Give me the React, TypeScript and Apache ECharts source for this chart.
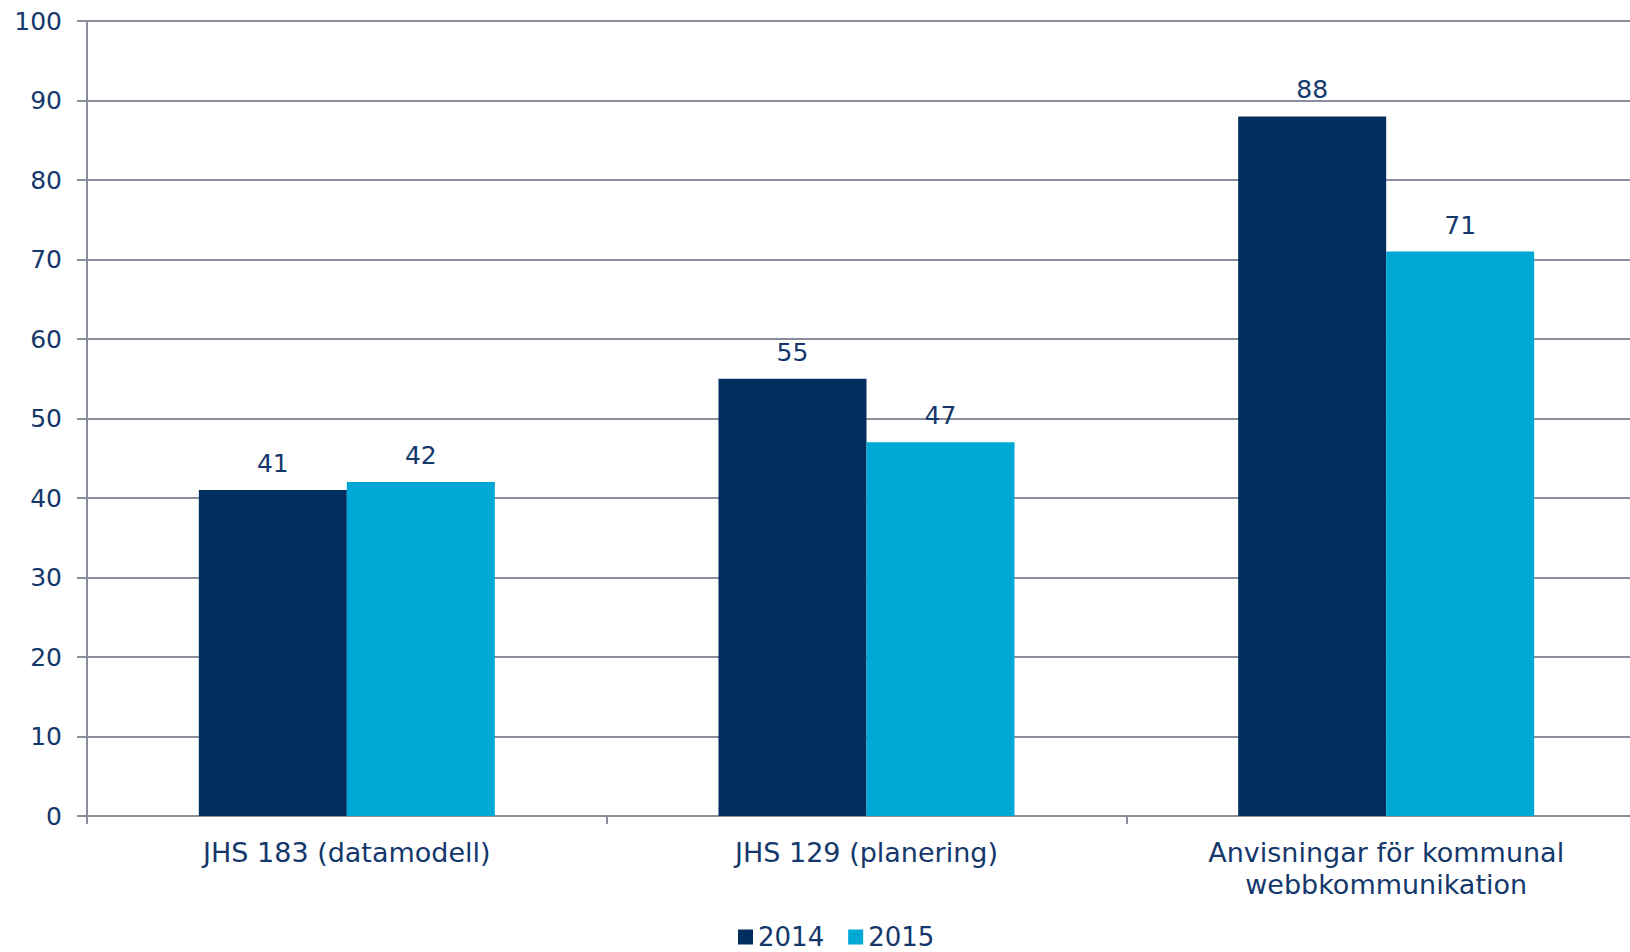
import React, { useEffect, useRef } from "react";
import * as echarts from "echarts";

const categories = ["JHS 183 (datamodell)", "JHS 129 (planering)", "Anvisningar för kommunal\nwebbkommunikation"];
const series2014 = [41, 55, 88];
const series2015 = [42, 47, 71];
const yTicks = { min: 0, max: 100, interval: 10 };

const TEXT = "#14386b";
const GRID = "#8a8e9c";
const FONT = "DejaVu Sans";

export default function App() {
  const ref = useRef<HTMLDivElement>(null);
  useEffect(() => {
    const chart = echarts.init(ref.current!, null, { renderer: "svg" });
    const label = {
      show: true,
      position: "top",
      distance: 14,
      color: TEXT,
      fontSize: 25,
      fontFamily: FONT,
    };
    chart.setOption({
      animation: false,
      textStyle: { fontFamily: FONT },
      grid: { left: 87, top: 21, width: 1559, height: 795, containLabel: false },
      legend: {
        bottom: 0,
        left: 738,
        padding: [0, 0, 1, 0],
        itemWidth: 15,
        itemHeight: 15,
        itemGap: 24,
        icon: "rect",
        textStyle: { color: TEXT, fontSize: 26, fontFamily: FONT, lineHeight: 28 },
        data: ["2014", "2015"],
      },
      xAxis: {
        type: "category",
        data: categories,
        axisLine: { lineStyle: { color: GRID, width: 2 } },
        axisTick: { show: true, length: 8, alignWithLabel: false, lineStyle: { color: GRID, width: 2 } },
        axisLabel: { color: TEXT, fontSize: 27, fontFamily: FONT, margin: 20, lineHeight: 32, interval: 0 },
      },
      yAxis: {
        type: "value",
        min: yTicks.min,
        max: yTicks.max,
        interval: yTicks.interval,
        axisLine: { show: true, lineStyle: { color: GRID, width: 2 } },
        axisTick: { show: true, length: 10, lineStyle: { color: GRID, width: 2 } },
        axisLabel: { color: TEXT, fontSize: 25, fontFamily: FONT, margin: 25 },
        splitLine: { show: true, lineStyle: { color: GRID, width: 2 } },
      },
      series: [
        {
          name: "2014",
          type: "bar",
          data: series2014,
          barWidth: 148,
          barGap: "0%",
          itemStyle: { color: "#002f5f" },
          label,
        },
        {
          name: "2015",
          type: "bar",
          data: series2015,
          barWidth: 148,
          barGap: "0%",
          itemStyle: { color: "#00a8d6" },
          label,
        },
      ],
    });
    return () => chart.dispose();
  }, []);
  return (
    <div style={{ position: "absolute", left: 0, top: 0, width: 1630, height: 952, overflow: "hidden" }}>
      <div ref={ref} style={{ width: 1680, height: 952 }} />
    </div>
  );
}
